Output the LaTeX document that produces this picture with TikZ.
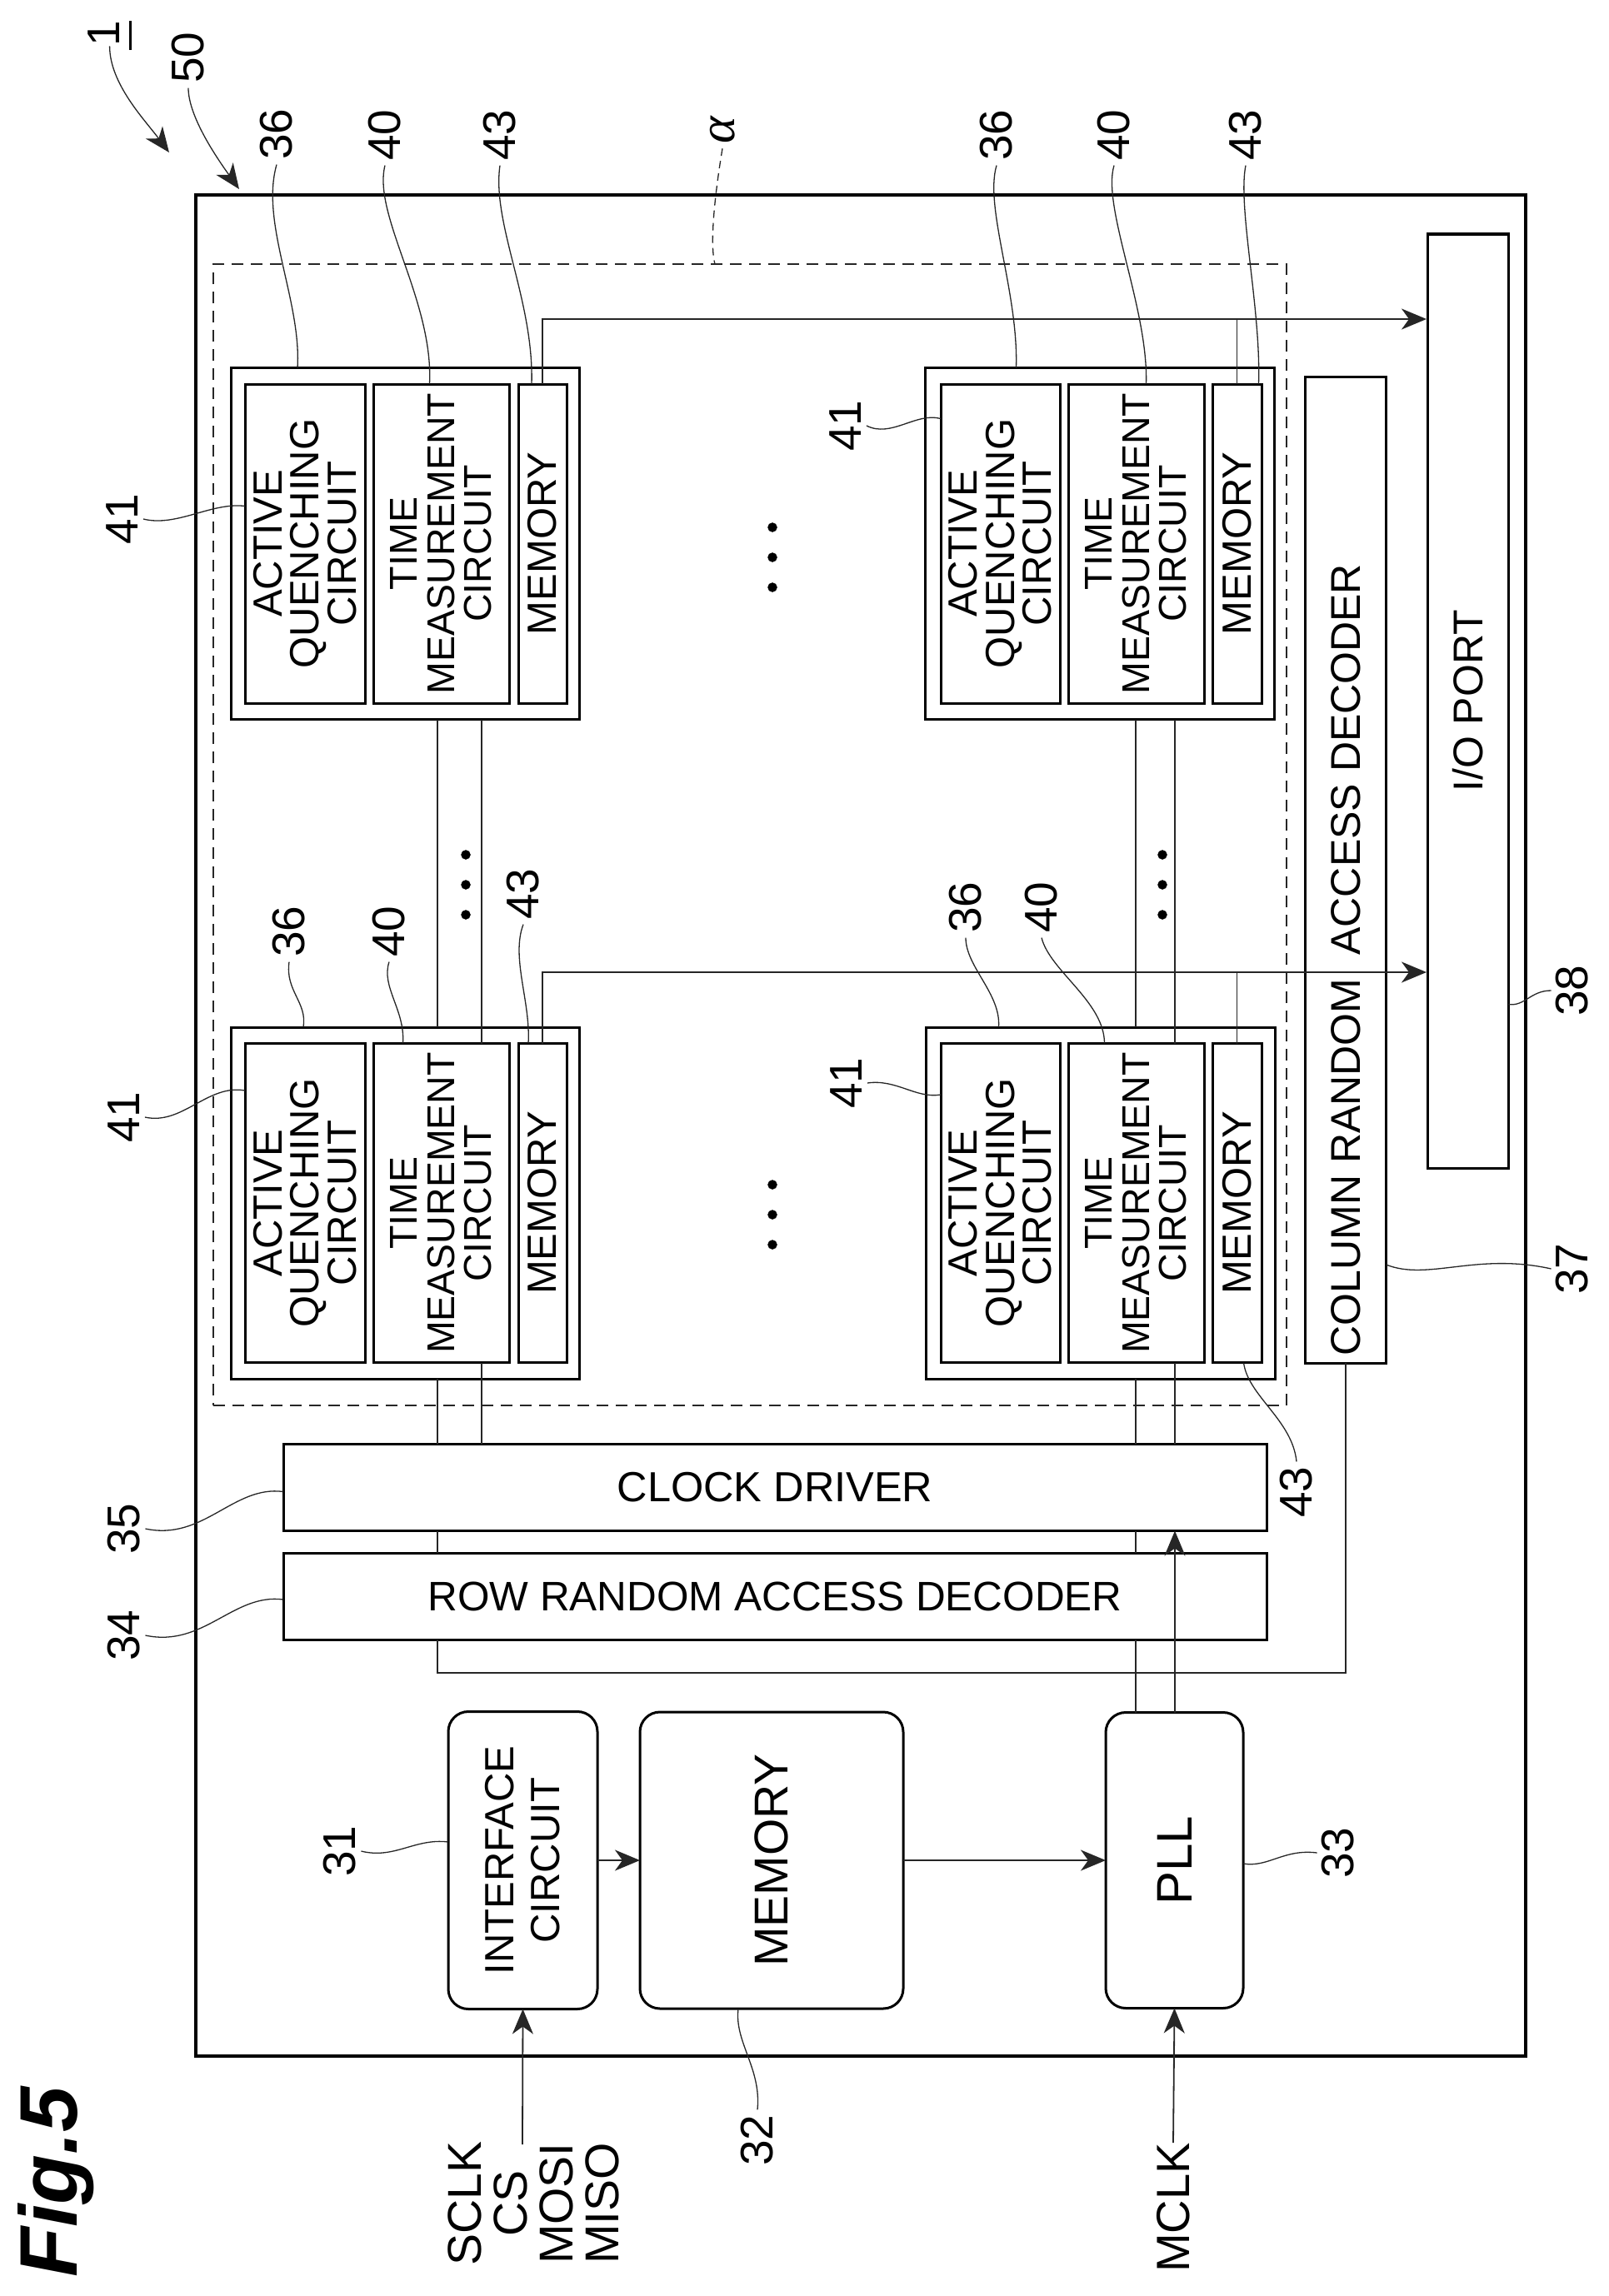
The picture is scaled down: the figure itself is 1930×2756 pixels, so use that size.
\documentclass[tikz,border=0pt]{standalone}
\usepackage{fontspec}
\setmainfont{Liberation Sans}
\newfontfamily\alphafont{Liberation Serif}
\usetikzlibrary{arrows.meta}
\newcommand{\fsize}[2]{\fontsize{#1pt}{#2pt}\selectfont}
\tikzset{
	upbox/.style={draw, rotate=90, align=center, inner sep=0pt, outer sep=0pt, line width=3pt},
	flatbox/.style={draw, inner sep=0pt, outer sep=0pt, line width=3pt},
	softbox/.style={upbox, rounded corners=24pt},
	num/.style={rotate=90, inner sep=0pt, outer sep=6pt, font=\fsize{55}{55}},
	sig/.style={rotate=90, inner sep=0pt, align=center},
	wire/.style={line width=1.8pt, black!85},
	lead/.style={line width=1.3pt, black!85},
}
\begin{document}
\begin{tikzpicture}[x=1pt, y=-1pt, >={Stealth[length=30pt,width=25pt,inset=9pt]}]
	\useasboundingbox (0,0) rectangle (1930,2756);
	
	% chip and pixel area
	\node[draw, line width=3.5pt, inner sep=0pt, outer sep=0pt, minimum width=1596pt, minimum height=2234pt] (chip) at (1033,1351) {};
	\node[draw, line width=1.6pt, black!85, dash pattern=on 14pt off 9pt, inner sep=0pt, outer sep=0pt, minimum width=1288pt, minimum height=1370pt] (area) at (900,1002) {};
	
	% pixel cells
	\foreach \n/\y/\cx/\cw/\ax/\aw/\tx/\tw/\mx/\mw in {
		1/652.5/486/418/366/144/529.5/163/651/58,
		2/652.5/1319.5/419/1200.5/143/1363.5/163/1484.5/59,
		3/1444/486/418/366/144/529.5/163/651/58,
		4/1444/1320.5/419/1200.5/143/1363.5/163/1484.5/59}
	{
		\node[upbox, minimum width=422pt, minimum height=\cw pt] (cell\n) at (\cx,\y) {};
		\node[upbox, minimum width=383pt, minimum height=\aw pt, font=\fsize{49}{44.6}] (aqc\n) at (\ax,\y) {ACTIVE\\QUENCHING\\CIRCUIT};
		\node[upbox, minimum width=383pt, minimum height=\tw pt, font=\fsize{46.5}{44.6}] (tmc\n) at (\tx,\y) {TIME\\MEASUREMENT\\CIRCUIT};
		\node[upbox, minimum width=383pt, minimum height=\mw pt, font=\fsize{49}{49}] (mem\n) at (\mx,\y) {MEMORY};
	}
	
	% blocks
	\node[flatbox, minimum width=1180pt, minimum height=104pt, font=\fsize{50.5}{50}] (clock) at (930,1785.5) {CLOCK DRIVER};
	\node[flatbox, minimum width=1180pt, minimum height=104pt, font=\fsize{49.5}{50}] (row) at (930,1916) {ROW RANDOM ACCESS DECODER};
	\node[upbox, minimum width=1184pt, minimum height=97pt, font=\fsize{50}{50}] (coldec) at (1615,1044) {COLUMN RANDOM\hspace{28pt}ACCESS DECODER\hspace*{216pt}};
	\node[upbox, minimum width=1121pt, minimum height=97pt, font=\fsize{50}{50}] (io) at (1761.5,841.5) {I/O PORT};
	\node[softbox, minimum width=357pt, minimum height=179pt, font=\fsize{49}{55}] (ifc) at (627.5,2233) {INTERFACE\\CIRCUIT};
	\node[softbox, minimum width=356pt, minimum height=316pt, font=\fsize{57}{57}] (rom) at (926,2233) {MEMORY};
	\node[softbox, minimum width=355pt, minimum height=165pt, font=\fsize{60}{60}] (pll) at (1409.5,2233) {PLL};
	
	% x positions of the vertical wires
	\coordinate (la) at (525,0);
	\coordinate (lb) at (578,0);
	\coordinate (ra) at (1363,0);
	\coordinate (rb) at (1410,0);
	\coordinate (bus1) at (1712,383);
	\coordinate (bus2) at (1712,1167);
	
	% output wires
	\draw[->, wire] (mem1.east) |- (bus1);
	\draw[wire] (mem2.east) -- (mem2.east |- bus1);
	\draw[->, wire] (mem3.east) |- (bus2);
	\draw[wire] (mem4.east) -- (mem4.east |- bus2);
	
	% vertical wires
	\draw[wire] (cell1.west -| la) -- (cell3.east -| la);
	\draw[wire] (cell3.west -| la) -- (clock.north -| la);
	\draw[wire] (clock.south -| la) -- (row.north -| la);
	\draw[wire] (row.south -| la) -- ++(0,40) -| (coldec.west);
	\draw[wire] (cell1.west -| lb) -- (tmc3.east -| lb);
	\draw[wire] (tmc3.west -| lb) -- (clock.north -| lb);
	
	\draw[wire] (cell2.west -| ra) -- (cell4.east -| ra);
	\draw[wire] (cell4.west -| ra) -- (clock.north -| ra);
	\draw[wire] (clock.south -| ra) -- (row.north -| ra);
	\draw[wire] (row.south -| ra) -- (pll.east -| ra);
	\draw[wire] (cell2.west -| rb) -- (tmc4.east -| rb);
	\draw[wire] (tmc4.west -| rb) -- (clock.north -| rb);
	\draw[->, wire] (pll.east -| rb) -- (clock.south -| rb);
	
	% block arrows
	\draw[->, wire] (ifc.south) -- (rom.north);
	\draw[->, wire] (rom.south) -- (pll.north);
	
	% inputs
	\node[sig, font=\fsize{57}{55}] (spi) at (640,2645) {SCLK\\CS\\MOSI\\MISO};
	\node[sig, font=\fsize{56}{56}] (mclk) at (1408,2650) {MCLK};
	\coordinate (spiin) at (627,2574);
	\draw[->, wire] (spiin) -- (ifc.west);
	\draw[->, wire] (mclk.east) -- (pll.west);
	
	% dots
	\foreach \x/\y in {927/633, 927/1422, 559/1026, 1395/1026}
	\foreach \d in {0,36,72}
	\filldraw[black] (\x,\y+\d) circle (5.5pt);
	
	% reference numerals
	\node[num, anchor=base, outer sep=0pt] (n1) at (143,40) {1\llap{\rule[-15pt]{35pt}{3pt}}};
	\node[num] (n50) at (226,69) {50};
	\node[num] (n36a) at (332,161) {36};
	\node[num] (n40a) at (462,162) {40};
	\node[num] (n43a) at (600,162) {43};
	\node[num] (n41a) at (147,623) {41};
	\node[num] (n36b) at (1196,162) {36};
	\node[num] (n40b) at (1337,162) {40};
	\node[num] (n43b) at (1495,162) {43};
	\node[num] (n41b) at (1015,511) {41};
	\node[num] (n36c) at (347,1118) {36};
	\node[num] (n40c) at (467,1118) {40};
	\node[num] (n43c) at (628,1073) {43};
	\node[num] (n41c) at (149,1341) {41};
	\node[num] (n36d) at (1159,1089) {36};
	\node[num] (n40d) at (1250,1089) {40};
	\node[num] (n41d) at (1016,1300) {41};
	\node[num] (n43d) at (1556,1791) {43};
	\node[num] (n35) at (149,1835) {35};
	\node[num] (n34) at (149,1963) {34};
	\node[num] (n38) at (1887,1189) {38};
	\node[num] (n37) at (1887,1523) {37};
	\node[num] (n31) at (408,2222) {31};
	\node[num] (n32) at (909,2569) {32};
	\node[num] (n33) at (1606,2224) {33};
	\node[num, font=\alphafont\itshape\fsize{62}{62}] (nalpha) at (867,156) {α};
	\node[rotate=90, anchor=base, inner sep=0pt, font=\bfseries\itshape\fsize{98}{98}] (figname) at (92,2619) {Fig.5};
	
	% leaders
	\coordinate (arrowa) at (203,183);
	\coordinate (arrowb) at (287,227);
	\draw[->, lead] (n1.west) .. controls +(0,45) and +(-30,-40) .. (arrowa);
	\draw[->, lead] (n50.west) .. controls +(0,35) and +(-25,-35) .. (arrowb);
	\draw[lead] (n36a.west) .. controls +(-20,70) and +(5,-80) .. ([xshift=-129pt]cell1.east);
	\draw[lead] (n40a.west) .. controls +(-15,60) and +(5,-100) .. ([xshift=-14pt]tmc1.east);
	\draw[lead] (n43a.west) .. controls +(-10,70) and +(3,-100) .. ([xshift=-13pt]mem1.east);
	\draw[lead] (n41a.south) .. controls +(40,10) and +(-40,-5) .. ([yshift=45pt]aqc1.north);
	\draw[lead] (n36b.west) .. controls +(-15,50) and +(3,-90) .. ([xshift=-100pt]cell2.east);
	\draw[lead] (n40b.west) .. controls +(-15,50) and +(3,-90) .. ([xshift=12pt]tmc2.east);
	\draw[lead] (n43b.west) .. controls +(-10,50) and +(3,-90) .. ([xshift=26pt]mem2.east);
	\draw[lead] (n41b.south) .. controls +(30,15) and +(-30,-8) .. ([yshift=150pt]aqc2.north);
	\draw[lead] (n36c.west) .. controls +(-5,35) and +(5,-30) .. ([xshift=-122pt]cell3.east);
	\draw[lead] (n40c.west) .. controls +(-10,30) and +(3,-40) .. ([xshift=-46pt]tmc3.east);
	\draw[lead] (n43c.west) .. controls +(-15,40) and +(3,-50) .. ([xshift=-17pt]mem3.east);
	\draw[lead] (n41c.south) .. controls +(45,10) and +(-45,-8) .. ([yshift=135pt]aqc3.north);
	\draw[lead] (n36d.west) .. controls +(0,35) and +(3,-40) .. ([xshift=-122pt]cell4.east);
	\draw[lead] (n40d.west) .. controls +(10,40) and +(0,-50) .. ([xshift=-38pt]tmc4.east);
	\draw[lead] (n41d.south) .. controls +(35,-5) and +(-30,5) .. ([yshift=130pt]aqc4.north);
	\draw[lead] (n43d.east) .. controls +(-5,-50) and +(5,40) .. ([xshift=8pt]mem4.west);
	\draw[lead] (n35.south) .. controls +(70,15) and +(-60,-8) .. ([yshift=-5pt]clock.west);
	\draw[lead] (n34.south) .. controls +(70,15) and +(-60,-8) .. ([yshift=-4pt]row.west);
	\draw[lead] (n38.north) .. controls +(-25,0) and +(20,3) .. ([yshift=-364pt]io.south);
	\draw[lead] (n37.north) .. controls +(-90,-20) and +(50,20) .. ([yshift=-474pt]coldec.south);
	\draw[lead] (n31.south) .. controls +(40,10) and +(-40,-5) .. ([yshift=22pt]ifc.north);
	\draw[lead] (n32.east) .. controls +(5,-50) and +(-5,40) .. ([xshift=-40pt]rom.west);
	\draw[lead] (n33.north) .. controls +(-40,-5) and +(30,5) .. ([yshift=-4pt]pll.south);
	\draw[lead, dash pattern=on 9pt off 6pt] (nalpha.west) .. controls +(-5,30) and +(-8,-30) .. ([xshift=-42pt]area.north);
\end{tikzpicture}
\end{document}
